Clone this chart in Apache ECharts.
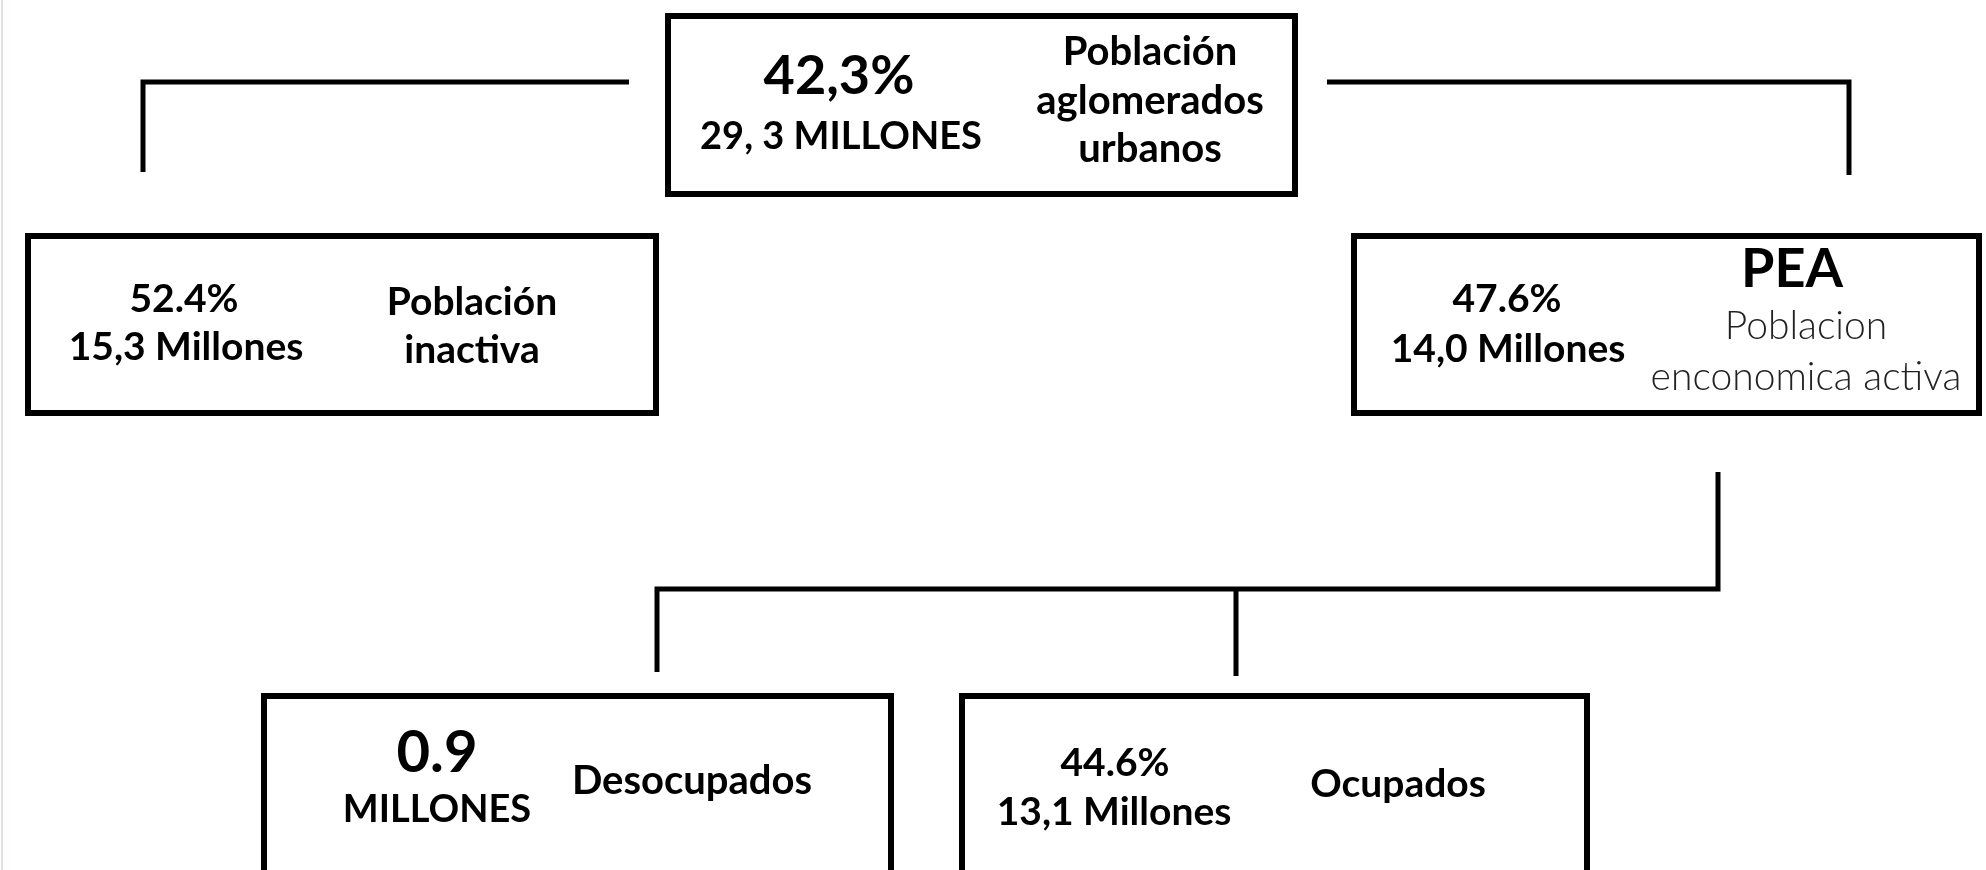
<!DOCTYPE html>
<html>
<head>
<meta charset="utf-8">
<script src="https://cdn.jsdelivr.net/npm/echarts@6/dist/echarts.min.js"></script>
<style>
html,body{margin:0;padding:0;background:#fff;}
#chart{width:1986px;height:870px;}
</style>
</head>
<body>
<div id="chart"></div>
<script>
// ---- Data (text content of each node) ----
const nodeIds = ['urbanos', 'inactiva', 'pea', 'desocupados', 'ocupados'];
const shareValues = ['42,3%', '52.4%', '47.6%', '0.9', '44.6%'];
const millionsValues = ['29, 3 MILLONES', '15,3 Millones', '14,0 Millones', 'MILLONES', '13,1 Millones'];
const nodeTitles = ['Población\naglomerados\nurbanos', 'Población\ninactiva', 'PEA', 'Desocupados', 'Ocupados'];
const nodeSubtitles = ['', '', 'Poblacion\nenconomica activa', '', ''];
// parent -> child links
const links = [['urbanos', 'inactiva'], ['urbanos', 'pea'], ['pea', 'desocupados'], ['pea', 'ocupados']];

// ---- Layout (positions in a 1986 x 870 canvas space) ----
const boxLayout = {
  urbanos:     {rect: [665, 13, 633, 184], share: [839, 77, 54], millions: [841, 137, 38], title: [1150, 101, 40, 48.5], subtitle: null},
  inactiva:    {rect: [25, 233, 634, 183], share: [184, 299, 39], millions: [186, 347, 39], title: [472, 326, 39, 48], subtitle: null},
  pea:         {rect: [1351, 233, 631, 183], share: [1507, 299, 39], millions: [1508, 349, 39], title: [1792, 270, 54, 52], subtitle: [1806, 352, 39, 51]},
  desocupados: {rect: [261, 693, 633, 240], share: [437, 753, 58], millions: [437, 810, 38], title: [692, 781, 40, 48], subtitle: null},
  ocupados:    {rect: [959, 693, 631, 240], share: [1115, 763, 39], millions: [1114, 812, 39], title: [1398, 784, 39, 48], subtitle: null}
};
const linkPaths = {
  'urbanos>inactiva': [[629, 82], [143, 82], [143, 172]],
  'urbanos>pea': [[1327, 82], [1849, 82], [1849, 175]],
  'pea>desocupados': [[1718, 472], [1718, 589], [657, 589], [657, 672]],
  'pea>ocupados': [[1236, 589], [1236, 676]]
};

const FONT = 'Lato, "Open Sans", sans-serif';
const BORDER = 6;

const chart = echarts.init(document.getElementById('chart'), null, {renderer: 'canvas'});

const linesData = links.map(l => ({coords: linkPaths[l[0] + '>' + l[1]]}));

function renderNode(params, api) {
  const i = api.value(0);
  const id = nodeIds[i];
  const L = boxLayout[id];
  const p0 = api.coord([L.rect[0], L.rect[1]]);
  const p1 = api.coord([L.rect[0] + L.rect[2], L.rect[1] + L.rect[3]]);
  const h = BORDER / 2;
  const children = [{
    type: 'rect',
    shape: {x: p0[0] + h, y: p0[1] + h, width: p1[0] - p0[0] - BORDER, height: p1[1] - p0[1] - BORDER},
    style: {fill: '#fff', stroke: '#000', lineWidth: BORDER}
  }];
  function txt(content, pos, weight, color) {
    const c = api.coord([pos[0], pos[1]]);
    children.push({
      type: 'text',
      x: c[0], y: c[1],
      style: {
        text: content, fill: color || '#000',
        font: weight + ' ' + pos[2] + 'px ' + FONT,
        align: 'center', verticalAlign: 'middle',
        lineHeight: pos[3] || pos[2] * 1.2
      }
    });
  }
  txt(shareValues[i], L.share, 'bold');
  txt(millionsValues[i], L.millions, 'bold');
  txt(nodeTitles[i], L.title, 'bold');
  if (L.subtitle && nodeSubtitles[i]) txt(nodeSubtitles[i], L.subtitle, '300', '#222');
  return {type: 'group', children: children};
}

chart.setOption({
  animation: false,
  backgroundColor: '#ffffff',
  grid: {left: 0, right: 0, top: 0, bottom: 0},
  xAxis: {type: 'value', min: 0, max: 1986, show: false},
  yAxis: {type: 'value', min: 0, max: 870, inverse: true, show: false},
  graphic: [{
    type: 'rect', left: 1, top: 0,
    shape: {width: 2, height: 870},
    style: {fill: '#eadcdc'}
  }],
  series: [
    {
      type: 'lines',
      coordinateSystem: 'cartesian2d',
      polyline: true,
      silent: true,
      lineStyle: {color: '#000', width: 5, opacity: 1, cap: 'butt', join: 'miter'},
      data: linesData
    },
    {
      type: 'custom',
      coordinateSystem: 'cartesian2d',
      silent: true,
      clip: true,
      renderItem: renderNode,
      data: nodeIds.map((id, i) => [i])
    }
  ]
});
</script>
</body>
</html>
